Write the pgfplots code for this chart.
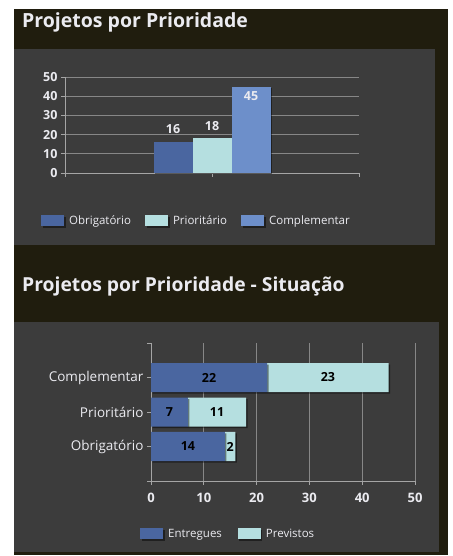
\documentclass[border=0pt]{standalone}
\usepackage{fontspec}
\setmainfont{Open Sans}
\usepackage{pgfplots}
\pgfplotsset{compat=1.18}
\usetikzlibrary{shadows}
\definecolor{bgdark}{RGB}{32,29,14}
\definecolor{panel}{RGB}{60,60,60}
\definecolor{cBlue}{RGB}{74,102,160}
\definecolor{cCyan}{RGB}{181,223,224}
\definecolor{cBlueB}{RGB}{109,143,202}
\definecolor{gridc}{RGB}{135,135,135}
\definecolor{axisc}{RGB}{165,165,165}
\definecolor{txt}{RGB}{235,235,240}
\pgfplotsset{
  /pgf/number format/assume math mode=true,
  mylegend/.style={legend image code/.code={\fill[##1] (0pt,-5.5pt) rectangle (23pt,5.5pt);}},
  myshadow/.style={drop shadow={shadow xshift=1.5pt, shadow yshift=-1.5pt, fill=black, opacity=0.45}},
}
\begin{document}
\begin{tikzpicture}[x=1pt,y=1pt]
\fill[white] (0,0) rectangle (452,556);
\fill[bgdark] (14,1) rectangle (448,547);
\fill[panel] (14,311) rectangle (435,507);
\fill[panel] (14,4) rectangle (439,234);
\node[anchor=west, inner sep=0pt, font=\bfseries\fontsize{19.5}{21}\selectfont, text=txt] at (22,534) {Projetos por Prioridade};
\node[anchor=west, inner sep=0pt, font=\bfseries\fontsize{19.3}{21}\selectfont, text=txt] at (22,270) {Projetos por Prioridade - Situação};

% Chart 1
\begin{axis}[
  at={(65pt,383pt)}, anchor=south west,
  scale only axis, width=294pt, height=96pt,
  xmin=0, xmax=1, ymin=0, ymax=50,
  ytick={0,10,20,30,40,50},
  xtick={0,0.5,1}, xticklabels={},
  ymajorgrids, grid style={gridc, line width=0.8pt},
  axis lines*=left,
  axis line style={axisc, line width=0.9pt},
  tick style={axisc, line width=0.9pt},
  tick align=outside, major tick length=4pt,
  y tick label style={font=\bfseries\fontsize{12.5}{12}\selectfont, text=txt},
  ybar=0pt, bar width=39pt,
  nodes near coords,
  every node near coord/.append style={font=\bfseries\fontsize{12.5}{12}\selectfont, text=txt},
  legend columns=-1,
  legend style={at={(axis description cs:-0.092,-0.5)}, anchor=west, draw=none, fill=none,
    font=\fontsize{11.5}{12}\selectfont, text=txt,
    /tikz/every odd column/.append style={column sep=3pt},
    /tikz/every even column/.append style={column sep=12pt}},
  clip=false,
]
\addplot[fill=cBlue, draw=none, myshadow, mylegend, every node near coord/.append style={yshift=5pt}] coordinates {(0.5,16)};
\addplot[fill=cCyan, draw=none, myshadow, mylegend, every node near coord/.append style={yshift=4pt}] coordinates {(0.5,18)};
\addplot[fill=cBlueB, draw=none, myshadow, mylegend, every node near coord/.append style={anchor=north, yshift=-1pt}] coordinates {(0.5,45)};
\legend{Obrigatório, Prioritário, Complementar}
\end{axis}

% Chart 2
\begin{axis}[
  at={(151pt,75pt)}, anchor=south west,
  scale only axis, width=264pt, height=138pt,
  xmin=0, xmax=50, ymin=0, ymax=4,
  xtick={0,10,20,30,40,50},
  ytick={1,2,3}, yticklabels={Obrigatório,Prioritário,Complementar},
  extra y ticks={0,4}, extra y tick labels={},
  xmajorgrids, grid style={gridc, line width=0.8pt},
  axis lines*=left,
  axis line style={axisc, line width=0.9pt},
  tick style={axisc, line width=0.9pt},
  tick align=outside, major tick length=4pt,
  x tick label style={font=\bfseries\fontsize{13}{13}\selectfont, text=txt, yshift=-5pt},
  y tick label style={font=\fontsize{13.5}{13}\selectfont, text=txt},
  xbar stacked, bar width=29pt,
  legend columns=-1,
  legend style={at={(axis description cs:-0.053,-0.384)}, anchor=west, draw=none, fill=none,
    font=\fontsize{11.5}{12}\selectfont, text=txt,
    /tikz/every odd column/.append style={column sep=3pt},
    /tikz/every even column/.append style={column sep=14pt}},
  clip=false,
]
\addplot[fill=cBlue, draw=none, myshadow, mylegend] coordinates {(14,1) (7,2) (22,3)};
\addplot[fill=cCyan, draw=none, myshadow, mylegend] coordinates {(2,1) (11,2) (23,3)};
\legend{Entregues, Previstos}
\end{axis}

% Labels for chart 2
\begin{axis}[
  at={(151pt,75pt)}, anchor=south west,
  scale only axis, width=264pt, height=138pt,
  xmin=0, xmax=50, ymin=0, ymax=4,
  hide axis, clip=false,
]
\addplot[only marks, mark=none, nodes near coords, point meta=explicit symbolic,
  every node near coord/.append style={anchor=center, font=\bfseries\fontsize{12.5}{12}\selectfont, text=black}]
  coordinates {(7,1)[14] (3.5,2)[7] (11,3)[22] (15,1)[2] (12.5,2)[11] (33.5,3)[23]};
\end{axis}
\end{tikzpicture}
\end{document}
